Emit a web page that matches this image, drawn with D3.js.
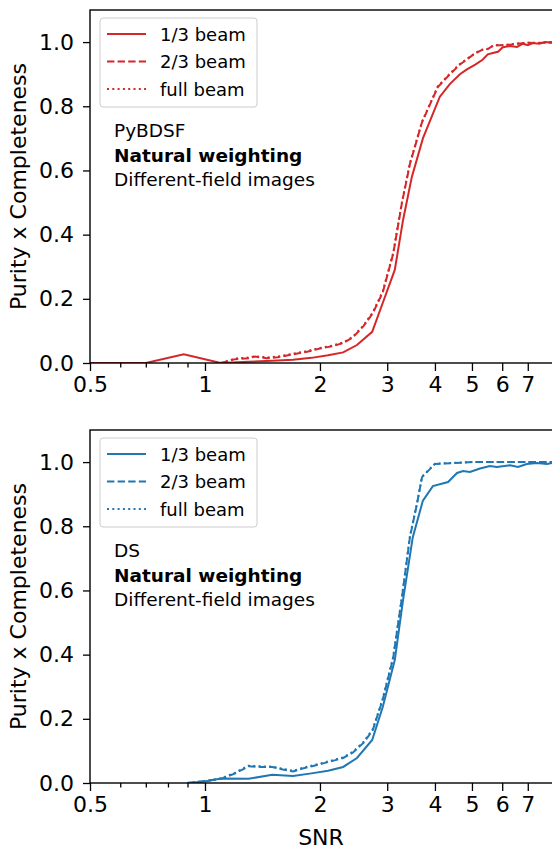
<!DOCTYPE html>
<html>
<head>
<meta charset="utf-8">
<script src="https://cdn.jsdelivr.net/npm/d3@7"></script>
<style>
  body { margin: 0; background: #fff; }
  text { font-family: "DejaVu Sans", sans-serif; }
</style>
</head>
<body>
<div id="chart"></div>
<script>
// ---- data ----
// PyBDSF, natural weighting
var pyX13 = [0.5, 0.6, 0.7, 0.88, 1.1, 1.3, 1.5, 1.7, 1.9, 2.1, 2.3, 2.5, 2.74, 2.92, 3.14, 3.3, 3.48, 3.72, 4.12, 4.38, 4.65, 4.85, 5.1, 5.33, 5.5, 5.67, 5.85, 6.02, 6.3, 6.56, 6.8, 7.0, 7.22, 7.5, 7.8, 8.1];
var pyY13 = [0, 0, 0, 0.027, 0.0, 0.004, 0.007, 0.01, 0.016, 0.024, 0.033, 0.056, 0.097, 0.187, 0.29, 0.445, 0.58, 0.70, 0.83, 0.87, 0.90, 0.915, 0.93, 0.945, 0.962, 0.966, 0.97, 0.984, 0.988, 0.985, 0.995, 0.99, 0.997, 0.995, 1.0, 0.997];
var pyX23 = [1.1, 1.2, 1.3, 1.35, 1.45, 1.55, 1.7, 1.85, 2.0, 2.15, 2.3, 2.44, 2.6, 2.75, 2.92, 3.11, 3.28, 3.44, 3.7, 4.07, 4.38, 4.65, 4.9, 5.1, 5.3, 5.5, 5.7, 6.0, 6.3, 6.6, 7.0, 7.5, 8.1];
var pyY23 = [0.0, 0.012, 0.015, 0.02, 0.015, 0.018, 0.027, 0.035, 0.045, 0.052, 0.062, 0.08, 0.115, 0.155, 0.22, 0.34, 0.50, 0.62, 0.75, 0.86, 0.90, 0.93, 0.95, 0.965, 0.975, 0.978, 0.99, 0.99, 0.992, 0.995, 0.998, 0.997, 1.0];
var pyXfull = [1.1, 1.2, 1.3, 1.35, 1.45, 1.55, 1.7, 1.85, 2.0, 2.15, 2.3, 2.44, 2.6, 2.75, 2.92, 3.11, 3.28, 3.44, 3.7, 4.07, 4.38, 4.65, 4.9, 5.1, 5.3, 5.5, 5.7, 6.0, 6.3, 6.6, 7.0, 7.5, 8.1];
var pyYfull = [0.0, 0.014, 0.017, 0.021, 0.017, 0.02, 0.029, 0.037, 0.047, 0.054, 0.064, 0.082, 0.117, 0.158, 0.223, 0.343, 0.503, 0.623, 0.752, 0.862, 0.902, 0.932, 0.951, 0.966, 0.976, 0.979, 0.99, 0.991, 0.993, 0.996, 0.998, 0.998, 1.0];

// DS, natural weighting
var dsX13 = [0.9, 1.0, 1.1, 1.3, 1.5, 1.7, 1.9, 2.1, 2.3, 2.5, 2.74, 2.92, 3.14, 3.3, 3.5, 3.72, 3.95, 4.33, 4.57, 4.74, 4.94, 5.25, 5.57, 5.81, 6.29, 6.6, 6.96, 7.4, 7.86, 8.1];
var dsY13 = [0, 0.005, 0.014, 0.013, 0.026, 0.022, 0.03, 0.038, 0.05, 0.078, 0.134, 0.237, 0.383, 0.57, 0.766, 0.88, 0.925, 0.938, 0.966, 0.972, 0.969, 0.98, 0.988, 0.985, 0.99, 0.985, 0.994, 0.997, 0.994, 0.997];
var dsX23 = [0.9, 1.0, 1.1, 1.2, 1.3, 1.4, 1.5, 1.6, 1.7, 1.8, 1.92, 2.05, 2.16, 2.3, 2.44, 2.6, 2.75, 2.92, 3.11, 3.28, 3.44, 3.59, 3.7, 4.0, 4.5, 5.0, 6.0, 7.0, 8.1];
var dsY23 = [0, 0.006, 0.013, 0.03, 0.052, 0.05, 0.05, 0.042, 0.036, 0.045, 0.053, 0.062, 0.069, 0.078, 0.095, 0.125, 0.165, 0.26, 0.39, 0.58, 0.766, 0.87, 0.953, 0.994, 0.997, 1.0, 1.0, 1.0, 1.0];
var dsXfull = [0.9, 1.0, 1.1, 1.2, 1.3, 1.4, 1.5, 1.6, 1.7, 1.8, 1.92, 2.05, 2.16, 2.3, 2.44, 2.6, 2.75, 2.92, 3.11, 3.28, 3.44, 3.59, 3.7, 4.0, 4.5, 5.0, 6.0, 7.0, 8.1];
var dsYfull = [0, 0.006, 0.014, 0.032, 0.054, 0.052, 0.051, 0.044, 0.038, 0.047, 0.055, 0.064, 0.071, 0.08, 0.097, 0.128, 0.168, 0.263, 0.393, 0.583, 0.769, 0.872, 0.955, 0.995, 0.998, 1.0, 1.0, 1.0, 1.0];

var legendLabels = ["1/3 beam", "2/3 beam", "full beam"];
var xMajor = [0.5, 1, 2, 3, 4, 5, 6, 7];
var xMinor = [0.6, 0.7, 0.8, 0.9];
var yTicks = [0, 0.2, 0.4, 0.6, 0.8, 1.0];

// ---- layout ----
var W = 552, H = 849;
var svg = d3.select("#chart").append("svg")
    .attr("width", W).attr("height", H);

var left = 90, right = 553, ph = 353;
var x = d3.scaleLog().domain([0.5, 8.15]).range([left, right]);
var dashes = [null, "7.4,3.2", "2,3.3"];

function drawPanel(top, color, series, tool, id, showXLabel) {
  var y = d3.scaleLinear().domain([0, 1.1]).range([top + ph, top]);
  var g = svg.append("g");

  g.append("clipPath").attr("id", id)
    .append("rect").attr("x", left).attr("y", top).attr("width", right - left).attr("height", ph);

  var line = d3.line()
      .x(function(d) { return x(d[0]); })
      .y(function(d) { return y(d[1]); });

  var plot = g.append("g").attr("clip-path", "url(#" + id + ")");
  // draw full beam first so the others sit on top
  [2, 1, 0].forEach(function(i) {
    var s = series[i];
    var pts = s[0].map(function(v, k) { return [v, s[1][k]]; });
    plot.append("path")
      .attr("d", line(pts))
      .attr("fill", "none")
      .attr("stroke", color)
      .attr("stroke-width", 2)
      .attr("stroke-dasharray", dashes[i]);
  });

  // axes
  var ya = g.append("g").attr("transform", "translate(" + left + ",0)")
    .call(d3.axisLeft(y).tickValues(yTicks).tickFormat(d3.format(".1f")).tickSize(7).tickPadding(9));
  var xa = g.append("g").attr("transform", "translate(0," + (top + ph) + ")")
    .call(d3.axisBottom(x).tickValues(xMajor).tickFormat(function(d) { return String(d); }).tickSize(8).tickPadding(5));
  g.append("g").attr("transform", "translate(0," + (top + ph) + ")")
    .call(d3.axisBottom(x).tickValues(xMinor).tickFormat("").tickSize(4.5))
    .select(".domain").remove();
  [ya, xa].forEach(function(a) {
    a.selectAll("text").attr("font-size", 22).attr("fill", "#000").attr("font-family", "DejaVu Sans");
    a.selectAll("line").attr("stroke", "#000").attr("stroke-width", 1.3);
    a.select(".domain").remove();
  });
  g.selectAll(".tick line").attr("stroke", "#000").attr("stroke-width", 1.3);

  // spines
  g.append("rect").attr("x", left).attr("y", top).attr("width", right - left).attr("height", ph)
    .attr("fill", "none").attr("stroke", "#000").attr("stroke-width", 1.4);

  // y label
  g.append("text")
    .attr("transform", "translate(26," + (top + ph / 2) + ") rotate(-90)")
    .attr("text-anchor", "middle")
    .attr("font-size", 22)
    .text("Purity x Completeness");

  if (showXLabel) {
    g.append("text").attr("x", (left + 552) / 2).attr("y", top + ph + 62)
      .attr("text-anchor", "middle").attr("font-size", 22).text("SNR");
  }

  // legend
  var lg = g.append("g").attr("transform", "translate(100," + (top + 8) + ")");
  lg.append("rect").attr("width", 157).attr("height", 89).attr("rx", 3)
    .attr("fill", "#fff").attr("fill-opacity", 0.8).attr("stroke", "#cccccc").attr("stroke-width", 1);
  legendLabels.forEach(function(lab, i) {
    var yy = 16 + i * 27.5;
    lg.append("line").attr("x1", 7).attr("x2", 46).attr("y1", yy).attr("y2", yy)
      .attr("stroke", color).attr("stroke-width", 2).attr("stroke-dasharray", dashes[i]);
    lg.append("text").attr("x", 60).attr("y", yy + 6.5).attr("font-size", 18).text(lab);
  });

  // annotation
  var notes = [[tool, "normal"], ["Natural weighting", "bold"], ["Different-field images", "normal"]];
  notes.forEach(function(n, i) {
    g.append("text").attr("x", 114).attr("y", top + 127 + i * 24.5)
      .attr("font-size", 18.5).attr("font-weight", n[1]).text(n[0]);
  });
}

drawPanel(10, "#d62728", [[pyX13, pyY13], [pyX23, pyY23], [pyXfull, pyYfull]], "PyBDSF", "clipA", false);
drawPanel(430, "#1f77b4", [[dsX13, dsY13], [dsX23, dsY23], [dsXfull, dsYfull]], "DS", "clipB", true);
</script>
</body>
</html>
